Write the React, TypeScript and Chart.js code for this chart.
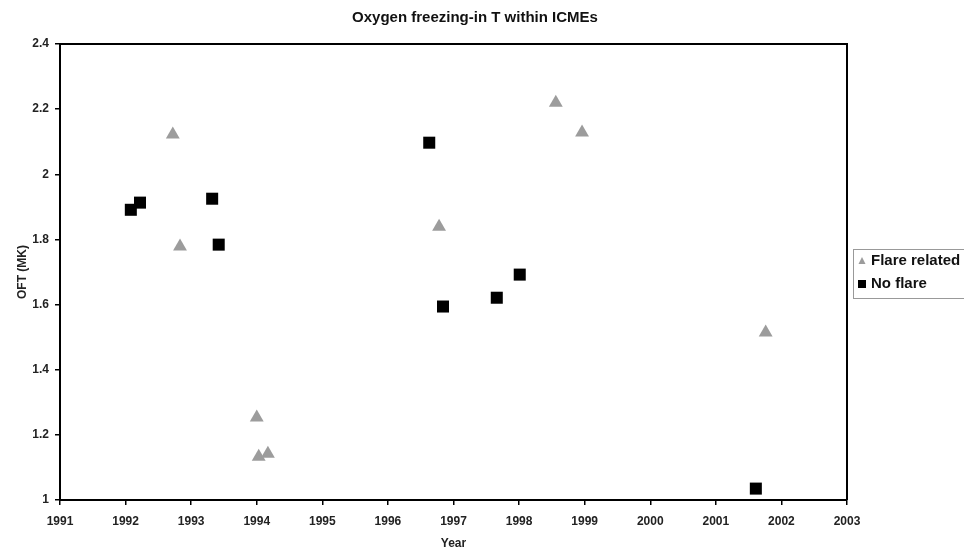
import React, { useEffect, useRef } from "react";
import { Chart, registerables } from "chart.js";

Chart.register(...registerables);

const chartTitle = "Oxygen freezing-in T within ICMEs";
const xAxisTitle = "Year";
const yAxisTitle = "OFT (MK)";
const seriesLabels = ["Flare related", "No flare"];

const xTickValues = [1991, 1992, 1993, 1994, 1995, 1996, 1997, 1998, 1999, 2000, 2001, 2002, 2003];
const yTickValues = [1, 1.2, 1.4, 1.6, 1.8, 2, 2.2, 2.4];

const flareYears = [1992.72, 1992.83, 1994.0, 1994.03, 1994.17, 1996.78, 1998.56, 1998.96, 2001.76];
const flareOFT = [2.122, 1.778, 1.253, 1.133, 1.142, 1.839, 2.22, 2.128, 1.514];

const noFlareYears = [1992.08, 1992.22, 1993.32, 1993.42, 1996.63, 1996.84, 1997.66, 1998.01, 2001.61];
const noFlareOFT = [1.891, 1.913, 1.925, 1.784, 2.097, 1.594, 1.621, 1.692, 1.035];

const FONT = "'Liberation Sans', Arial, Helvetica, sans-serif";

const framePlugin = {
  id: "frame",
  afterDraw(chart: any) {
    const { ctx, chartArea } = chart;
    ctx.save();
    ctx.strokeStyle = "#000";
    ctx.lineWidth = 2;
    ctx.beginPath();
    ctx.moveTo(chartArea.left, chartArea.top);
    ctx.lineTo(chartArea.right, chartArea.top);
    ctx.lineTo(chartArea.right, chartArea.bottom);
    ctx.stroke();
    ctx.restore();
  },
};

const titlePlugin = {
  id: "customTitle",
  afterDraw(chart: any) {
    const { ctx } = chart;
    ctx.save();
    ctx.fillStyle = "#111";
    ctx.font = `bold 15px ${FONT}`;
    ctx.textAlign = "center";
    ctx.textBaseline = "middle";
    ctx.fillText(chartTitle, 475, 18);
    ctx.restore();
  },
};

const legendPlugin = {
  id: "customLegend",
  afterDraw(chart: any) {
    const { ctx } = chart;
    const x0 = 853;
    const y0 = 249;
    const w = 112;
    const h = 49;
    ctx.save();
    ctx.strokeStyle = "#999";
    ctx.lineWidth = 1;
    ctx.strokeRect(x0 + 0.5, y0 + 0.5, w, h);
    ctx.font = `bold 15px ${FONT}`;
    ctx.textBaseline = "middle";
    ctx.textAlign = "left";
    chart.data.datasets.forEach((ds: any, i: number) => {
      const cy = y0 + 12 + i * 23;
      const cx = x0 + 9;
      ctx.fillStyle = ds.backgroundColor;
      if (ds.pointStyle === "triangle") {
        ctx.beginPath();
        ctx.moveTo(cx, cy - 4);
        ctx.lineTo(cx + 3.5, cy + 3);
        ctx.lineTo(cx - 3.5, cy + 3);
        ctx.closePath();
        ctx.fill();
      } else {
        ctx.fillRect(cx - 4, cy - 4, 8, 8);
      }
      ctx.fillStyle = "#111";
      ctx.fillText(ds.label, x0 + 18, cy);
    });
    ctx.restore();
  },
};

export default function App() {
  const ref = useRef<HTMLCanvasElement | null>(null);

  useEffect(() => {
    if (!ref.current) return;
    const chart = new Chart(ref.current, {
      type: "scatter",
      data: {
        datasets: [
          {
            label: seriesLabels[0],
            data: flareYears.map((x, i) => ({ x, y: flareOFT[i] })),
            pointStyle: "triangle",
            backgroundColor: "#9c9c9c",
            borderColor: "#9c9c9c",
            borderWidth: 0,
            pointRadius: 8,
          },
          {
            label: seriesLabels[1],
            data: noFlareYears.map((x, i) => ({ x, y: noFlareOFT[i] })),
            pointStyle: "rect",
            backgroundColor: "#000",
            borderColor: "#000",
            borderWidth: 0,
            pointRadius: 8.5,
          },
        ],
      },
      options: {
        animation: false,
        responsive: false,
        devicePixelRatio: 1,
        layout: { padding: { left: 0, right: 117, top: 44, bottom: 0 } },
        plugins: {
          legend: { display: false },
          title: { display: false },
          tooltip: { enabled: false },
        },
        scales: {
          x: {
            type: "linear",
            min: xTickValues[0],
            max: xTickValues[xTickValues.length - 1],
            afterFit: (s: any) => {
              s.height = 51;
            },
            afterBuildTicks: (s: any) => {
              s.ticks = xTickValues.map((v) => ({ value: v }));
            },
            ticks: {
              callback: (v: any) => String(v),
              color: "#222",
              font: { family: FONT, size: 12, weight: "bold" },
              padding: 9,
              maxRotation: 0,
            },
            grid: {
              drawOnChartArea: false,
              drawTicks: true,
              tickLength: 5,
              color: "#000",
              lineWidth: 1.5,
            },
            border: { display: true, color: "#000", width: 2 },
            title: {
              display: true,
              text: xAxisTitle,
              color: "#222",
              font: { family: FONT, size: 12, weight: "bold" },
              padding: { top: 0, bottom: 0 },
            },
          },
          y: {
            type: "linear",
            min: yTickValues[0],
            max: yTickValues[yTickValues.length - 1],
            afterFit: (s: any) => {
              s.width = 60;
            },
            afterBuildTicks: (s: any) => {
              s.ticks = yTickValues.map((v) => ({ value: v }));
            },
            ticks: {
              callback: (v: any) => String(v),
              color: "#222",
              font: { family: FONT, size: 12, weight: "bold" },
              padding: 6,
            },
            grid: {
              drawOnChartArea: false,
              drawTicks: true,
              tickLength: 5,
              color: "#000",
              lineWidth: 1.5,
            },
            border: { display: true, color: "#000", width: 2 },
            title: {
              display: true,
              text: yAxisTitle,
              color: "#222",
              font: { family: FONT, size: 12, weight: "bold" },
              padding: { top: 15, bottom: 0 },
            },
          },
        },
      },
      plugins: [framePlugin, titlePlugin, legendPlugin],
    });
    return () => chart.destroy();
  }, []);

  return (
    <div style={{ position: "absolute", left: 0, top: 0, width: 964, height: 551, background: "#fff" }}>
      <canvas ref={ref} width={964} height={551} />
    </div>
  );
}
